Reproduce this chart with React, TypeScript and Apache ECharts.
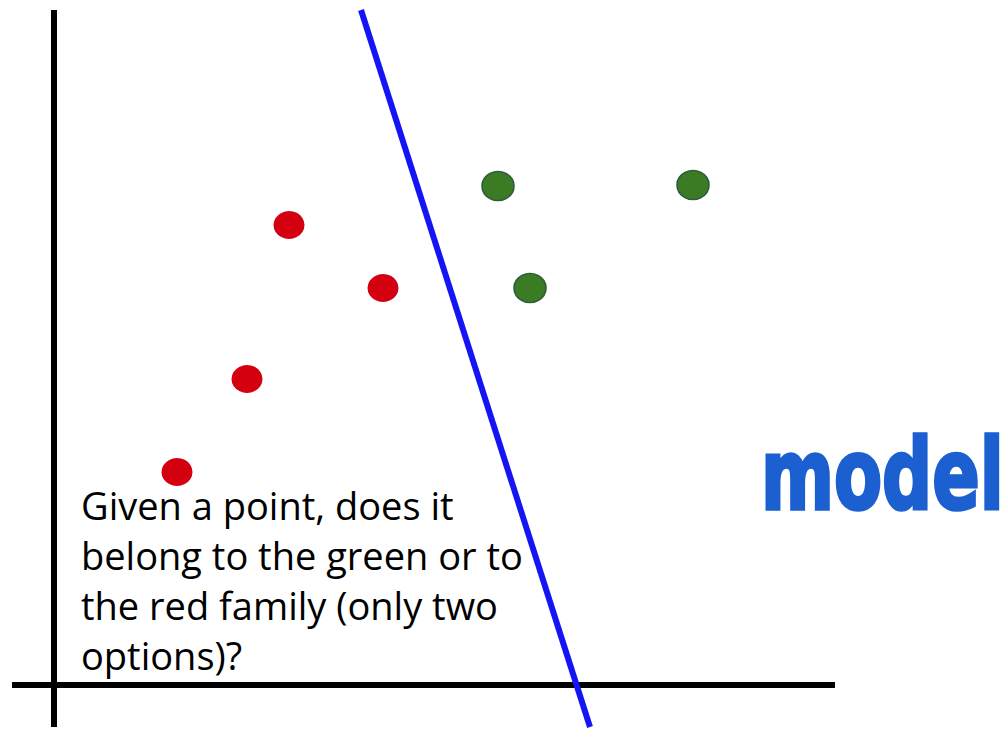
import React, { useEffect, useRef } from "react";
import * as echarts from "echarts";

// Plane coordinates: origin at the axes' crossing, one unit per pixel.
const redFamily: [number, number][] = [
  [235, 460],
  [329, 397],
  [193, 306],
  [123, 213],
];
const greenFamily: [number, number][] = [
  [444, 499],
  [476, 397],
  [639, 500],
];
const boundary: [number, number][] = [
  [307, 675],
  [536, -42],
];
const horizontalAxis: [number, number][] = [
  [-42, 0],
  [781, 0],
];
const verticalAxis: [number, number][] = [
  [0, 675],
  [0, -42],
];
const questionLines = [
  "Given a point, does it",
  "belong to the green or to",
  "the red family (only two",
  "options)?",
];
const modelWord = "model";

export default function App() {
  const ref = useRef<HTMLDivElement>(null);

  useEffect(() => {
    if (!ref.current) return;
    const chart = echarts.init(ref.current, undefined, { renderer: "svg" });

    const lineSeries = (data: [number, number][], color: string, width: number) => ({
      type: "line",
      data,
      symbol: "none",
      silent: true,
      lineStyle: { color, width, cap: "butt" },
      z: 2,
    });

    chart.setOption({
      animation: false,
      backgroundColor: "#ffffff",
      grid: { left: 0, right: 0, top: 0, bottom: 0, containLabel: false },
      xAxis: { type: "value", min: -54, max: 951, show: false },
      yAxis: { type: "value", min: -44, max: 685, show: false },
      series: [
        lineSeries(horizontalAxis, "#000000", 6),
        lineSeries(verticalAxis, "#000000", 6),
        lineSeries(boundary, "#1414f5", 6),
        {
          type: "scatter",
          data: redFamily,
          symbol: "circle",
          symbolSize: [31, 28],
          itemStyle: { color: "#d4000f", opacity: 1 },
          z: 3,
        },
        {
          type: "scatter",
          data: greenFamily,
          symbol: "circle",
          symbolSize: [32, 29],
          itemStyle: { color: "#3a7b24", borderColor: "#2d5a3c", borderWidth: 1.5, opacity: 1 },
          z: 3,
        },
      ],
      graphic: [
        ...questionLines.map((line, i) => ({
          type: "text",
          left: 81,
          top: 486 + i * 50,
          z: 10,
          style: {
            text: line,
            fill: "#000000",
            font: '38px "Open Sans", Lato, sans-serif',
          },
        })),
        {
          type: "text",
          x: 761,
          y: 524,
          scaleX: 1.03,
          scaleY: 1.45,
          z: 10,
          style: {
            text: modelWord,
            fill: "#1b5fd0",
            stroke: "#1b5fd0",
            lineWidth: 2.5,
            font: 'bold 68px "DejaVu Sans", sans-serif',
            verticalAlign: "bottom",
          },
        },
      ],
    });

    return () => chart.dispose();
  }, []);

  return (
    <div
      ref={ref}
      style={{ position: "absolute", left: 0, top: 0, width: 1005, height: 729 }}
    />
  );
}
